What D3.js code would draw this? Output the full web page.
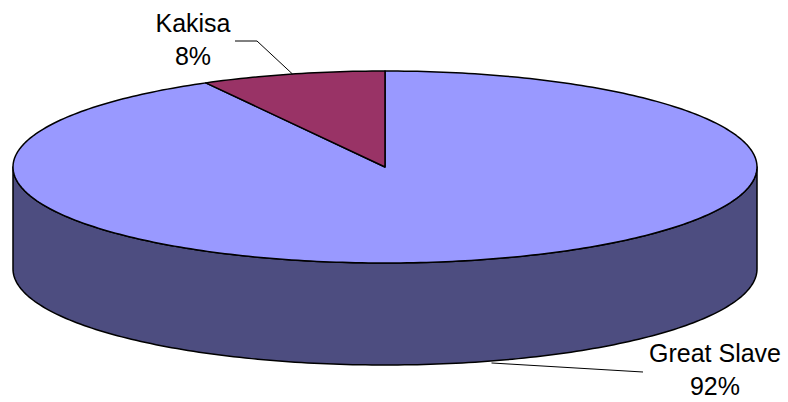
<!DOCTYPE html>
<html>
<head>
<meta charset="utf-8">
<script src="https://cdn.jsdelivr.net/npm/d3@7"></script>
<style>
  html, body { margin: 0; padding: 0; background: #fff; }
  svg { display: block; }
  text { font-family: "Liberation Sans", Arial, sans-serif; font-size: 25px; fill: #000; }
</style>
</head>
<body>
<svg id="chart" width="788" height="402"></svg>
<script>
const categories = ["Great Slave", "Kakisa"];
const values = [92, 8];
const percentLabels = ["92%", "8%"];
const topColors = ["#9999FF", "#993366"];
const sideColors = ["#4D4D80", "#4D1A33"];

const W = 788, H = 402;
const cx = 385, cy = 167, rx = 372, ry = 96, depth = 102;

const svg = d3.select("#chart");
const pie = d3.pie().sort(null).value(d => d).startAngle(0).endAngle(2 * Math.PI);
const arcs = pie(values);

// projected ellipse point for clockwise angle a from 12 o'clock
const px = a => cx + rx * Math.sin(a);
const py = (a, dz) => cy - ry * Math.cos(a) + (dz || 0);

function arcPts(a0, a1, dz) {
  const n = Math.max(2, Math.ceil(Math.abs(a1 - a0) / (Math.PI / 180)));
  return d3.range(n + 1).map(i => {
    const a = a0 + (a1 - a0) * i / n;
    return [px(a), py(a, dz)];
  });
}
const line = d3.line();

// sides (front half only: angles between PI/2 and 3PI/2)
arcs.forEach((d, i) => {
  const s = Math.max(d.startAngle, Math.PI / 2);
  const e = Math.min(d.endAngle, 3 * Math.PI / 2);
  if (s < e) {
    const pts = arcPts(s, e, 0).concat(arcPts(e, s, depth));
    svg.append("path")
      .attr("d", line(pts) + "Z")
      .attr("fill", sideColors[i])
      .attr("stroke", "#000")
      .attr("stroke-width", 1.5)
      .attr("stroke-linejoin", "round");
  }
});

// tops
arcs.forEach((d, i) => {
  const pts = [[cx, cy]].concat(arcPts(d.startAngle, d.endAngle, 0));
  svg.append("path")
    .attr("d", line(pts) + "Z")
    .attr("fill", topColors[i])
    .attr("stroke", "#000")
    .attr("stroke-width", 1.5)
    .attr("stroke-linejoin", "round");
});

// labels with leader lines
const labelCfg = [
  { x: 715, y: 362, leader: (a) => [[px(a) + 14, py(a, depth) + 1], [643, 372]], onSide: true },
  { x: 193, y: 32, leader: (a) => [[px(a), py(a, 0)], [257, 41], [235, 41]], onSide: false }
];

arcs.forEach((d, i) => {
  const mid = (d.startAngle + d.endAngle) / 2;
  const cfg = labelCfg[i];
  svg.append("path")
    .attr("d", line(cfg.leader(mid)))
    .attr("fill", "none")
    .attr("stroke", "#000")
    .attr("stroke-width", 1);
  const t = svg.append("text")
    .attr("x", cfg.x)
    .attr("y", cfg.y)
    .attr("text-anchor", "middle");
  t.append("tspan").attr("x", cfg.x).attr("y", cfg.y).text(categories[i]);
  t.append("tspan").attr("x", cfg.x).attr("y", cfg.y + 33).text(percentLabels[i]);
});
</script>
</body>
</html>
